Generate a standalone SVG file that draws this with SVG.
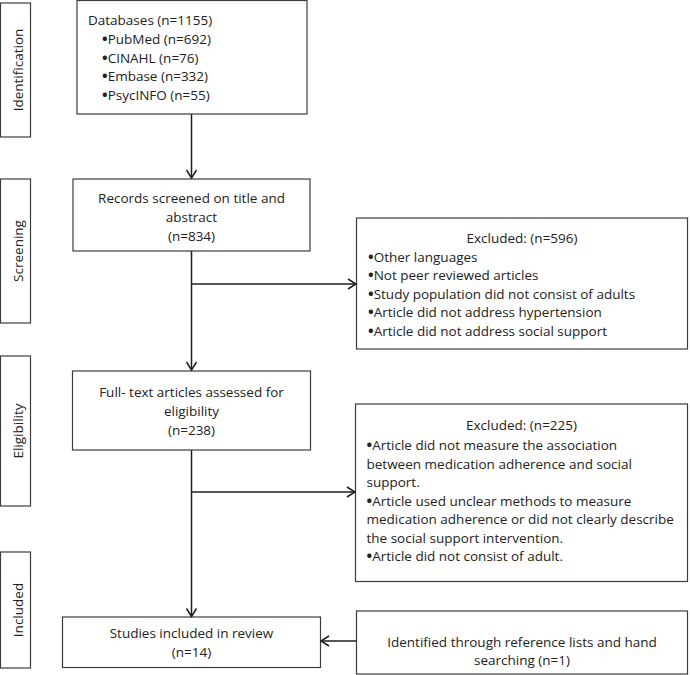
<svg xmlns="http://www.w3.org/2000/svg" width="690" height="675" viewBox="0 0 690 675">
<style>
.box{fill:#fff;stroke:#3c3c3c;stroke-width:1.2}
.t{font-family:"Open Sans","Liberation Sans",sans-serif;font-size:13.5px;fill:#222}
.c{text-anchor:middle}
.b{font-size:15px;font-weight:bold}
.ln{fill:none;stroke:#1e1e1e;stroke-width:1.5}
</style>
<defs>
<marker id="ah" markerUnits="userSpaceOnUse" markerWidth="14" markerHeight="14" refX="10" refY="6" orient="auto">
<path d="M2,1 L10,6 L2,11" fill="none" stroke="#1e1e1e" stroke-width="1.5"/>
</marker>
</defs>
<g id="stage-identification"><rect class="box" x="0.5" y="3" width="30" height="134"/><text class="t c" transform="translate(22.5,70) rotate(-90)">Identification</text></g>
<g id="stage-screening"><rect class="box" x="0.5" y="179" width="30" height="144"/><text class="t c" transform="translate(22.5,251) rotate(-90)">Screening</text></g>
<g id="stage-eligibility"><rect class="box" x="0.5" y="356" width="30" height="150"/><text class="t c" transform="translate(22.5,431) rotate(-90)">Eligibility</text></g>
<g id="stage-included"><rect class="box" x="0.5" y="552" width="30" height="116"/><text class="t c" transform="translate(22.5,610) rotate(-90)">Included</text></g>

<g id="databases"><rect class="box" x="77" y="0.5" width="230" height="113.5"/>
<text class="t" x="88" y="25">Databases (n=1155)</text>
<text class="t" x="102" y="44"><tspan class="b">•</tspan>PubMed (n=692)</text>
<text class="t" x="102" y="62.5"><tspan class="b">•</tspan>CINAHL (n=76)</text>
<text class="t" x="102" y="81"><tspan class="b">•</tspan>Embase (n=332)</text>
<text class="t" x="102" y="99.5"><tspan class="b">•</tspan>PsycINFO (n=55)</text></g>

<g id="screened"><rect class="box" x="73" y="179" width="237" height="72"/>
<text class="t c" x="191.5" y="203">Records screened on title and</text>
<text class="t c" x="191.5" y="222">abstract</text>
<text class="t c" x="191.5" y="240.5">(n=834)</text></g>

<g id="excluded1"><rect class="box" x="356.5" y="218" width="331" height="131"/>
<text class="t c" x="522" y="243">Excluded: (n=596)</text>
<text class="t" x="368" y="261.5"><tspan class="b">•</tspan>Other languages</text>
<text class="t" x="368" y="280"><tspan class="b">•</tspan>Not peer reviewed articles</text>
<text class="t" x="368" y="298.5"><tspan class="b">•</tspan>Study population did not consist of adults</text>
<text class="t" x="368" y="317"><tspan class="b">•</tspan>Article did not address hypertension</text>
<text class="t" x="368" y="335.5"><tspan class="b">•</tspan>Article did not address social support</text></g>

<g id="fulltext"><rect class="box" x="72.5" y="371" width="238" height="79"/>
<text class="t c" x="191.5" y="396.5">Full- text articles assessed for</text>
<text class="t c" x="191.5" y="416">eligibility</text>
<text class="t c" x="191.5" y="435">(n=238)</text></g>

<g id="excluded2"><rect class="box" x="355.5" y="404" width="332" height="177.5"/>
<text class="t c" x="521.5" y="430">Excluded: (n=225)</text>
<text class="t" x="366.5" y="450"><tspan class="b">•</tspan>Article did not measure the association</text>
<text class="t" x="366.5" y="468.5">between medication adherence and social</text>
<text class="t" x="366.5" y="487">support.</text>
<text class="t" x="366.5" y="505.5"><tspan class="b">•</tspan>Article used unclear methods to measure</text>
<text class="t" x="366.5" y="524">medication adherence or did not clearly describe</text>
<text class="t" x="366.5" y="542.5">the social support intervention.</text>
<text class="t" x="366.5" y="561"><tspan class="b">•</tspan>Article did not consist of adult.</text></g>

<g id="included"><rect class="box" x="62.5" y="617" width="258" height="50.5"/>
<text class="t c" x="191.5" y="638">Studies included in review</text>
<text class="t c" x="191.5" y="656.5">(n=14)</text></g>

<g id="handsearch"><rect class="box" x="356.5" y="611" width="331" height="63"/>
<text class="t c" x="522" y="647">Identified through reference lists and hand</text>
<text class="t c" x="522" y="665">searching (n=1)</text></g>

<g id="connectors">
<path class="ln" d="M191.5,114 V178" marker-end="url(#ah)"/>
<path class="ln" d="M191.5,251 V370" marker-end="url(#ah)"/>
<path class="ln" d="M191.5,284 H356" marker-end="url(#ah)"/>
<path class="ln" d="M191.5,450 V616.5" marker-end="url(#ah)"/>
<path class="ln" d="M191.5,492 H355" marker-end="url(#ah)"/>
<path class="ln" d="M356.5,641 H321" marker-end="url(#ah)"/>
</g>
</svg>
